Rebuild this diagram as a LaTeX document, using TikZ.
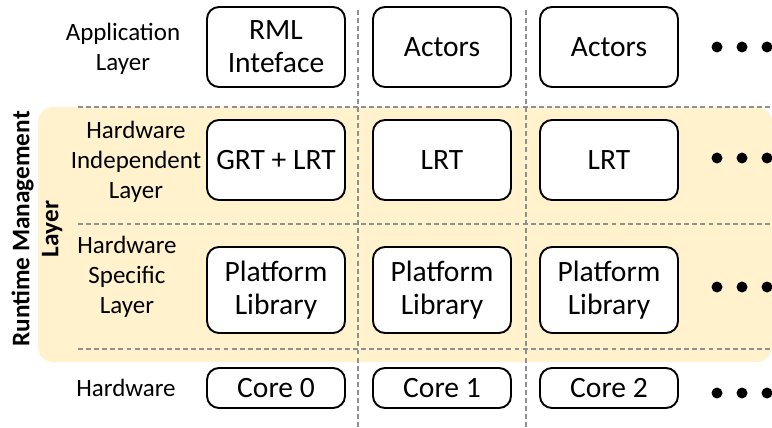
\documentclass[tikz,border=0pt]{standalone}
\usepackage{fontspec}
\setmainfont{Carlito}
\usepackage{xcolor}
\usepackage{tikz}
\usetikzlibrary{shapes}

\definecolor{bandyellow}{HTML}{FFF2CC}
\definecolor{sepgrey}{HTML}{909090}

\tikzset{
  unit/.style={draw, fill=white, rounded corners=2.4mm, line width=1.1pt,
    minimum width=27.6mm, align=center, inner sep=0pt,
    font=\fontsize{16.8}{18.7}\selectfont},
  layerlabel/.style={align=center, inner sep=0pt,
    font=\fontsize{14.2}{17}\selectfont},
  sep/.style={sepgrey, line width=1.4pt, dash pattern=on 2.8pt off 1.8pt}
}

\begin{document}
\begin{tikzpicture}[x=0.2mm, y=-0.2mm]
\useasboundingbox (0, 0) rectangle (772, 428);

% runtime management band
\fill [bandyellow, rounded corners=3mm] (38, 107) rectangle (772, 362);
\node [rotate=90, align=center, inner sep=0pt,
    font=\fontsize{14.4}{16.4}\selectfont\bfseries] (rtm) at (37, 229)
    {Runtime Management\\Layer};

\draw [sep] (78, 107) -- (772, 107);
\draw [sep] (78, 224) -- (772, 224);
\draw [sep] (78, 349) -- (772, 349);
\draw [sep] (358, 10) -- (358, 428);
\draw [sep] (526, 10) -- (526, 428);

% layer names
\node [layerlabel] (lapp) at (123, 49) {Application\\Layer};
\node [layerlabel] (lhwi) at (136, 162) {Hardware\\Independent\\Layer};
\node [layerlabel] (lhws) at (127, 277) {Hardware\\Specific\\Layer};
\node [layerlabel] (lhw) at (126, 388) {Hardware};

% application layer
\node [unit, minimum height=16mm] (app0) at (276, 47) {RML\\Inteface};
\node [unit, minimum height=16mm] (app1) at (442, 47) {Actors};
\node [unit, minimum height=16mm] (app2) at (609, 47) {Actors};

% hardware independent layer
\node [unit, minimum height=16mm] (hwi0) at (276, 160) {GRT + LRT};
\node [unit, minimum height=16mm] (hwi1) at (442, 160) {LRT};
\node [unit, minimum height=16mm] (hwi2) at (609, 160) {LRT};

% hardware specific layer
\node [unit, minimum height=17.2mm] (hws0) at (276, 290) {Platform\\Library};
\node [unit, minimum height=17.2mm] (hws1) at (442, 290) {Platform\\Library};
\node [unit, minimum height=17.2mm] (hws2) at (609, 290) {Platform\\Library};

% hardware
\node [unit, minimum height=8mm] (core0) at (276, 388) {Core 0};
\node [unit, minimum height=8mm] (core1) at (442, 388) {Core 1};
\node [unit, minimum height=8mm] (core2) at (609, 388) {Core 2};

% more cores
\fill (717, 47) circle (5.5) (742, 47) circle (5.5) (767, 47) circle (5.5);
\fill (717, 158) circle (5.5) (742, 158) circle (5.5) (767, 158) circle (5.5);
\fill (717, 287) circle (5.5) (742, 287) circle (5.5) (767, 287) circle (5.5);
\fill (717, 393) circle (5.5) (742, 393) circle (5.5) (767, 393) circle (5.5);
\end{tikzpicture}
\end{document}
